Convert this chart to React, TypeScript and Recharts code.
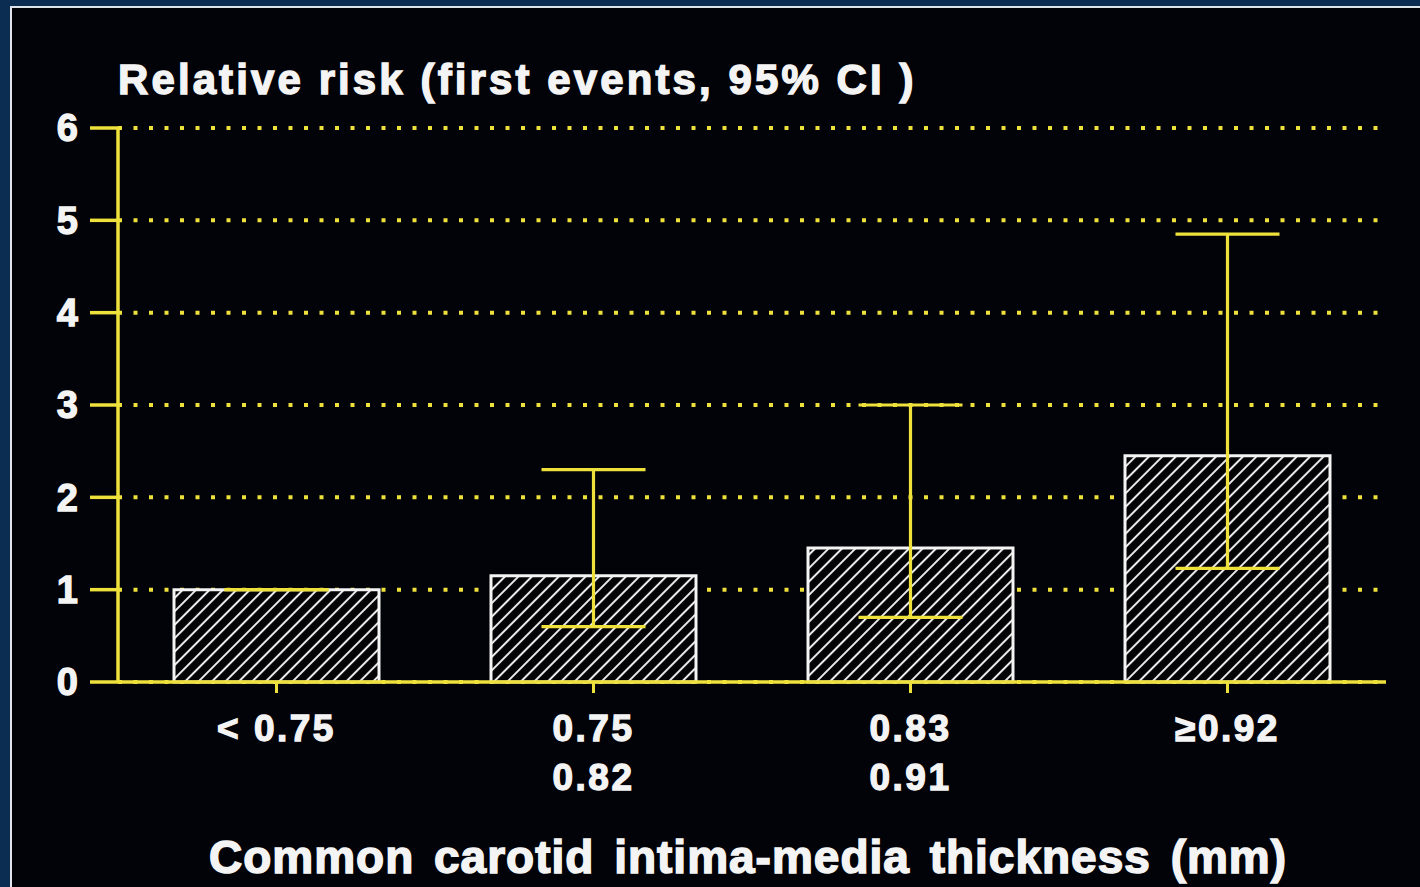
import React from 'react';
import { BarChart, Bar, XAxis, YAxis, CartesianGrid, ErrorBar } from 'recharts';

const categoriesLine1 = ['< 0.75', '0.75', '0.83', '≥0.92'];
const categoriesLine2 = ['', '0.82', '0.91', ''];
const relativeRisk = [1.0, 1.15, 1.45, 2.45];
const ciLower = [1.0, 0.6, 0.7, 1.23];
const ciUpper = [1.0, 2.3, 3.0, 4.85];
const yTicks = [0, 1, 2, 3, 4, 5, 6];

const chartTitle = 'Relative risk (first events, 95% CI )';
const xAxisTitle = 'Common carotid intima-media thickness (mm)';

const data = categoriesLine1.map((cat, i) => ({
  cat,
  sub: categoriesLine2[i],
  rr: relativeRisk[i],
  err: [relativeRisk[i] - ciLower[i], ciUpper[i] - relativeRisk[i]],
}));

const YELLOW = '#efe13c';
const WHITE = '#f4f4f4';
const FONT = '"Liberation Sans", Arial, Helvetica, sans-serif';

const XTick = (props: any) => {
  const { x, y, payload } = props;
  const idx = payload.index;
  const sub = categoriesLine2[idx];
  const common = {
    textAnchor: 'middle' as const,
    fill: WHITE,
    stroke: WHITE,
    strokeWidth: 1.3,
    fontSize: 37,
    fontWeight: 'bold',
    fontFamily: FONT,
    letterSpacing: 2.5,
  };
  return (
    <g transform={`translate(${x},${y})`}>
      <text x={0} y={46} {...common}>
        {payload.value}
      </text>
      {sub ? (
        <text x={0} y={95} {...common}>
          {sub}
        </text>
      ) : null}
    </g>
  );
};

export default function App() {
  return (
    <div style={{ position: 'absolute', left: 0, top: 0, width: 1420, height: 887, overflow: 'hidden', background: '#0c2d52' }}>
      <svg width={0} height={0} style={{ position: 'absolute' }}>
        <defs>
          <pattern id="hatch" patternUnits="userSpaceOnUse" width={9.5} height={9.5} patternTransform="rotate(45)">
            <rect x={0} y={0} width={9.5} height={9.5} fill="#030306" />
            <line x1={4.75} y1={0} x2={4.75} y2={9.5} stroke="#ececec" strokeWidth={2} />
          </pattern>
        </defs>
      </svg>
      <div style={{ position: 'absolute', left: 10, top: 6, right: 0, bottom: 0, background: '#020308', borderLeft: '2px solid #dfe4ea', borderTop: '2px solid #dfe4ea' }} />
      <div style={{ position: 'absolute', left: 0, top: 0 }}>
        <BarChart width={1420} height={887} data={data} margin={{ top: 128, right: 34, bottom: 0, left: 0 }}>
          <CartesianGrid horizontal vertical={false} stroke={YELLOW} strokeWidth={4} strokeDasharray="4 11.5" />
          <XAxis
            dataKey="cat"
            height={205}
            axisLine={{ stroke: YELLOW, strokeWidth: 3.5 }}
            tickLine={{ stroke: YELLOW, strokeWidth: 3 }}
            tickSize={11}
            tickMargin={2}
            tick={<XTick />}
            interval={0}
          />
          <YAxis
            width={118}
            domain={[0, 6]}
            ticks={yTicks}
            interval={0}
            axisLine={{ stroke: YELLOW, strokeWidth: 3.5 }}
            tickLine={{ stroke: YELLOW, strokeWidth: 3.5 }}
            tickSize={28}
            tickMargin={12}
            tick={{ fill: WHITE, stroke: WHITE, strokeWidth: 1.3, fontSize: 38, fontWeight: 'bold', fontFamily: FONT }}
          />
          <Bar dataKey="rr" barSize={205} fill="url(#hatch)" stroke={WHITE} strokeWidth={3} isAnimationActive={false}>
            <ErrorBar dataKey="err" width={52} stroke={YELLOW} strokeWidth={3.2} isAnimationActive={false} />
          </Bar>
        </BarChart>
      </div>
      <div style={{ position: 'absolute', left: 118, top: 59, fontFamily: FONT, fontWeight: 'bold', fontSize: 42, lineHeight: '42px', color: WHITE, letterSpacing: 3.1, whiteSpace: 'nowrap', WebkitTextStroke: '1.4px ' + WHITE }}>
        {chartTitle}
      </div>
      <div style={{ position: 'absolute', left: 148, width: 1200, top: 834, textAlign: 'center', fontFamily: FONT, fontWeight: 'bold', fontSize: 46, lineHeight: '46px', color: WHITE, letterSpacing: 1, wordSpacing: 6, whiteSpace: 'nowrap', WebkitTextStroke: '1.5px ' + WHITE }}>
        {xAxisTitle}
      </div>
    </div>
  );
}
